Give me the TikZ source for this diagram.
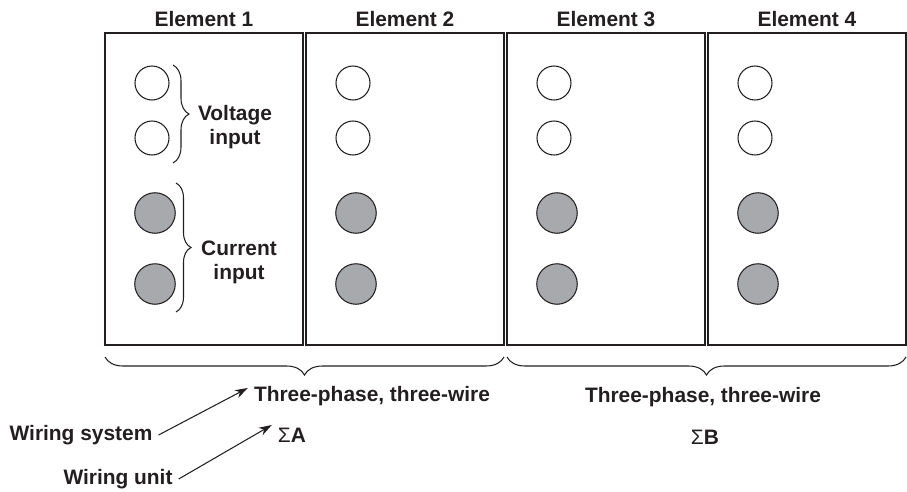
\documentclass[tikz,border=0pt]{standalone}
\usepackage{fontspec}
\setmainfont{Liberation Sans}
\usepackage{tikz}
\usetikzlibrary{decorations.pathreplacing,arrows.meta}
\definecolor{ink}{RGB}{35,31,32}
\definecolor{pinfill}{RGB}{167,169,172}

\begin{document}
\begin{tikzpicture}[x=0.2mm,y=-0.2mm,
                every node/.style={font=\fontsize{11.9}{13.6}\selectfont\bfseries,text=ink},
                element/.style={draw=ink,line width=0.7pt,minimum width=39.6mm,minimum height=62.4mm,inner sep=0pt},
                vpin/.style={circle,draw=ink,line width=0.6pt,fill=white,minimum size=6.8mm,inner sep=0pt},
                ipin/.style={circle,draw=ink,line width=0.6pt,fill=pinfill,minimum size=8.1mm,inner sep=0pt},
                brc/.style={decorate,draw=ink,line width=0.6pt,decoration={brace,amplitude=#1}},
                pointer/.style={draw=ink,line width=0.6pt,-{Stealth[length=2.6mm,width=1.7mm]}}
            ]
                \useasboundingbox (0,0) rectangle (907,491);
                \foreach \i in {1,...,4}
                    {
                    \pgfmathsetmacro{\cx}{204+201*(\i-1)}
                    \node[element] (el\i) at (\cx,189) { };
                    \node (title\i) at (\cx,19) {Element \i};
                    \node[vpin] (v\i a) at (\cx-52,83) { };
                    \node[vpin] (v\i b) at (\cx-52,138) { };
                    \node[ipin] (c\i a) at (\cx-49,213) { };
                    \node[ipin] (c\i b) at (\cx-49,284) { };
                }
                \draw[brc=3.2mm] (173,65) -- (173,163);
                \draw[brc=3.0mm] (176,183) -- (176,312);
                \node[align=center] (vin) at (235,127) {Voltage\\input};
                \node[align=center] (cin) at (239,262) {Current\\input};

                \draw[brc=3.6mm] (504,357) -- (105,357);
                \draw[brc=3.6mm] (906,357) -- (507,357);
                \node (tpA) at (372,396) {Three-phase, three-wire};
                \node (tpB) at (703,397) {Three-phase, three-wire};
                \node (sumA) at (292,435) {{\mdseries Σ}A};
                \node (sumB) at (705,437) {{\mdseries Σ}B};

                \node (wsys) at (81,435) {Wiring system};
                \node (wunit) at (118,479) {Wiring unit};
                \draw[pointer] (wsys.east) -- ([yshift=1.6mm]tpA.west);
                \draw[pointer] (wunit.east) -- ([yshift=2mm]sumA.west);

            \end{tikzpicture}
\end{document}
